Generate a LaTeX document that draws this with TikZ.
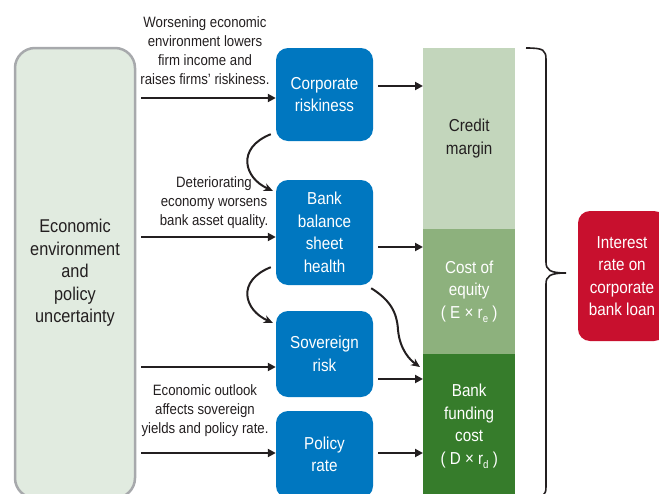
\documentclass[tikz,border=0pt]{standalone}
\usepackage{fontspec}
\setmainfont{Liberation Sans}[FakeStretch=0.88]
\usetikzlibrary{arrows.meta}
\definecolor{txt}{HTML}{231F20}
\definecolor{bluebox}{HTML}{0077C0}
\definecolor{redbox}{HTML}{C8102E}
\definecolor{leftfill}{HTML}{E1EBE0}
\definecolor{leftdraw}{HTML}{A7A9AC}
\definecolor{gA}{HTML}{C3D6BC}
\definecolor{gB}{HTML}{8DB17D}
\definecolor{gC}{HTML}{367C2B}
\tikzset{
  boxtext/.style={font=\fontsize{17.3}{22.5}\selectfont, align=center, inner sep=0pt},
  bbox/.style={boxtext, fill=bluebox, text=white, rounded corners=12pt, minimum width=97pt},
  barseg/.style={boxtext, minimum width=92pt, anchor=north west},
  lbl/.style={font=\fontsize{15}{19}\selectfont, align=center, text=txt, inner sep=0pt},
  arr/.style={draw=txt, line width=2pt, -{Triangle[length=8pt,width=8pt]}},
  carr/.style={draw=txt, line width=2pt, -{Stealth[length=9pt,width=8pt]}}
}
\begin{document}
\begin{tikzpicture}[x=1pt,y=-1pt]
\useasboundingbox (0,0) rectangle (659,493);
\begin{scope}
\clip (0,0) rectangle (659,493);
% left box
\node[boxtext, font=\fontsize{18.5}{22.5}\selectfont, text=txt, fill=leftfill, draw=leftdraw, line width=2.5pt, rounded corners=20pt,
  minimum width=120pt, minimum height=450pt] (env) at (75,273)
  {Economic\\environment\\and\\policy\\uncertainty};
% blue boxes
\node[bbox, minimum height=93pt] (corp) at (324.5,94.5) {Corporate\\riskiness};
\node[bbox, minimum height=105pt] (bank) at (324.5,232.5) {Bank\\balance\\sheet\\health};
\node[bbox, minimum height=86pt] (sov) at (324.5,354) {Sovereign\\risk};
\node[bbox, minimum height=87pt] (pol) at (324.5,454.5) {Policy\\rate};
% bar
\node[barseg, fill=gA, text=txt, minimum height=181pt] (cm) at (423,48) {Credit\\margin};
\node[barseg, fill=gB, text=white, minimum height=125pt] (ce) at (423,229)
  {Cost of\\equity\\( E × r\raisebox{-4pt}{\fontsize{11}{11}\selectfont e} )};
\node[barseg, fill=gC, text=white, minimum height=144pt] (fc) at (423,354)
  {Bank\\funding\\cost\\( D × r\raisebox{-4pt}{\fontsize{11}{11}\selectfont d} )};
% red box
\node[boxtext, fill=redbox, text=white, rounded corners=12pt, minimum width=88pt, minimum height=130pt]
  (rate) at (622,276) {Interest\\rate on\\corporate\\bank loan};
% labels
\node[lbl] (l1) at (205,50.5) {Worsening economic\\environment lowers\\firm income and\\raises firms’ riskiness.};
\node[lbl] (l2) at (214,203) {Deteriorating\\economy worsens\\bank asset quality.};
\node[lbl] (l3) at (205,411) {Economic outlook\\affects sovereign\\yields and policy rate.};
% arrows from env
\draw[arr] ([xshift=5pt]env.east |- 0,98) -- (corp.west |- 0,98);
\draw[arr] ([xshift=5pt]env.east |- 0,237) -- (bank.west |- 0,237);
\draw[arr] ([xshift=5pt]env.east |- 0,367) -- (sov.west |- 0,367);
\draw[arr] ([xshift=5pt]env.east |- 0,453) -- (pol.west |- 0,453);
% arrows to bar
\draw[arr] ([xshift=5pt]corp.east |- 0,86) -- (cm.west |- 0,86);
\draw[arr] ([xshift=5pt]bank.east |- 0,247) -- (ce.west |- 0,247);
\draw[arr] ([xshift=5pt]sov.east |- 0,379) -- (fc.west |- 0,379);
\draw[arr] ([xshift=5pt]pol.east |- 0,453) -- (fc.west |- 0,453);
% curved arrows
\draw[carr] ([xshift=-5pt,yshift=7pt]corp.south west) .. controls (236,148) and (244,178) .. ([xshift=-3pt,yshift=-11pt]bank.north west);
\draw[carr] ([xshift=-5pt,yshift=18pt]bank.south west) .. controls (236,281) and (244,310) .. ([xshift=-3pt,yshift=-12pt]sov.north west);
\draw[carr] ([xshift=-2pt,yshift=-3pt]bank.south east) .. controls (390,300) and (397,312) .. (398,330)
  .. controls (400,350) and (410,360) .. ([xshift=-3pt,yshift=-13pt]fc.north west);
% brace
\draw[txt, line width=1.6pt] (526,48) .. controls (544,48) and (546,50) .. (546,60) -- (546,262)
  .. controls (546,270) and (550,273) .. (566,273)
  .. controls (550,273) and (546,276) .. (546,284) -- (546,486)
  .. controls (546,496) and (544,498) .. (526,498);
\end{scope}
\end{tikzpicture}
\end{document}
